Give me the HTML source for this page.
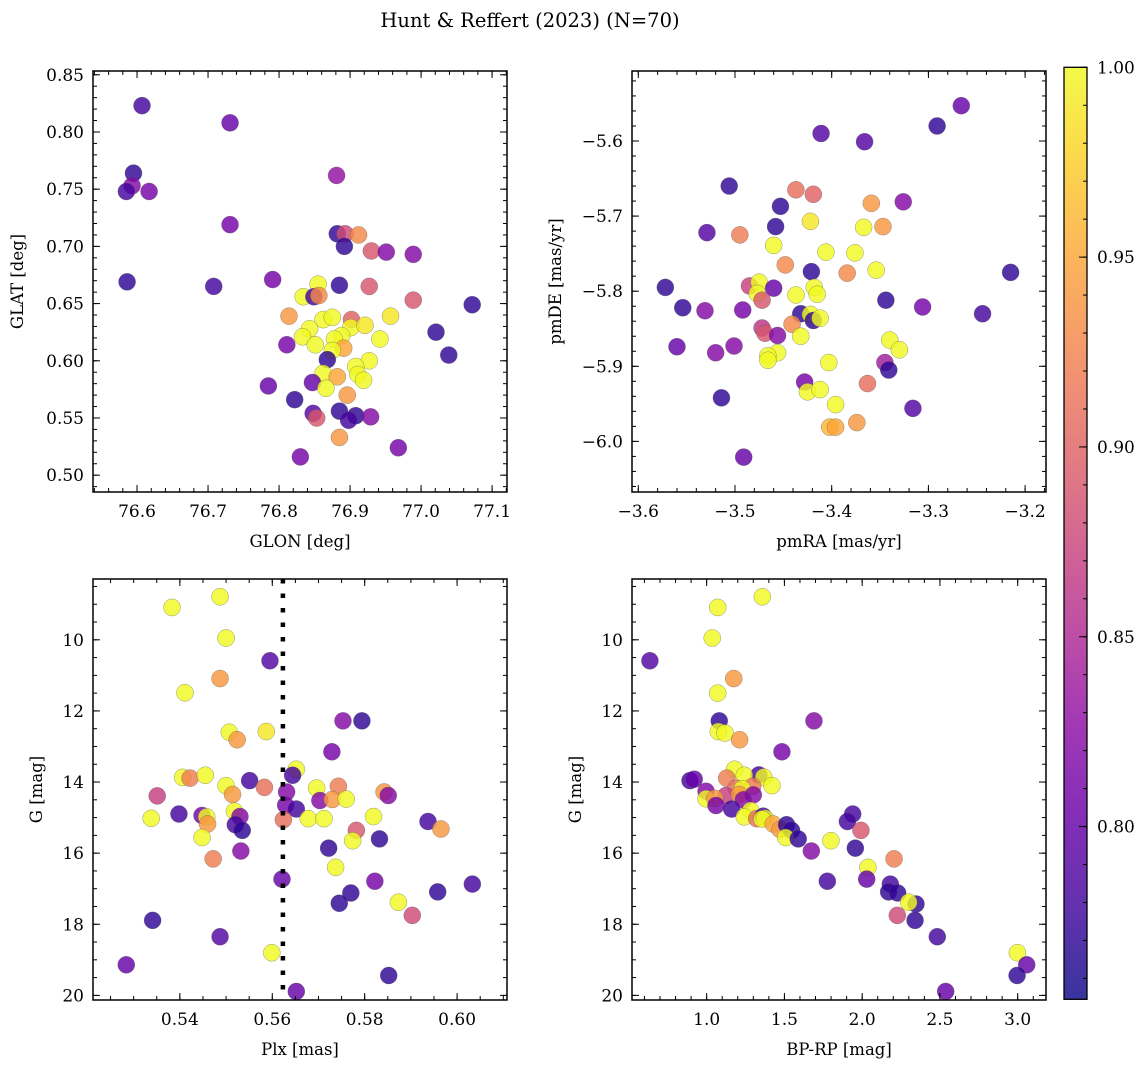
<!DOCTYPE html>
<html><head><meta charset="utf-8">
<style>
html,body{margin:0;padding:0;background:#fff;}
svg{display:block;font-family:"DejaVu Serif","Liberation Serif",serif;}
</style></head>
<body>
<svg id="fig" width="1148" height="1067" viewBox="0 0 1148 1067" xmlns="http://www.w3.org/2000/svg">
<text x="530" y="27" font-size="19.5" text-anchor="middle">Hunt &amp; Reffert (2023) (N=70)</text>
<g id="plots"></g>
</svg>
<script>
// ---- Panel 1: GLON vs GLAT ----
const glon1 = [76.607,76.731,76.595,76.593,76.585,76.617,76.881,76.731,76.882,76.893,76.912,76.892,76.930,76.951,76.989,76.586,76.708,76.791,76.855,76.885,76.927,76.834,76.849,76.856,76.989,77.072,76.814,76.862,76.875,76.902,76.957,76.843,76.901,76.921,76.833,76.888,76.878,76.942,77.021,76.811,76.851,76.891,76.875,77.039,76.868,76.927,76.908,76.911,76.862,76.882,76.919,76.847,76.785,76.866,76.896,76.822,76.885,76.848,76.853,76.908,76.898,76.929,76.885,76.968,76.830];
const glat1 = [0.823,0.808,0.764,0.753,0.748,0.748,0.762,0.719,0.711,0.711,0.710,0.700,0.696,0.695,0.693,0.669,0.665,0.671,0.667,0.666,0.665,0.656,0.656,0.657,0.653,0.649,0.639,0.636,0.638,0.636,0.639,0.628,0.629,0.631,0.621,0.622,0.619,0.619,0.625,0.614,0.614,0.611,0.609,0.605,0.601,0.600,0.595,0.588,0.589,0.586,0.583,0.581,0.578,0.576,0.570,0.566,0.556,0.554,0.550,0.552,0.548,0.551,0.533,0.524,0.516];
const prob1 = [0.78,0.80,0.77,0.82,0.78,0.81,0.83,0.81,0.77,0.88,0.93,0.77,0.89,0.82,0.82,0.77,0.78,0.81,1.0,0.77,0.89,1.0,0.78,0.93,0.89,0.77,0.94,1.0,1.0,0.90,0.99,1.0,1.0,0.99,1.0,1.0,1.0,1.0,0.77,0.81,1.0,0.95,1.0,0.77,0.77,1.0,1.0,1.0,1.0,0.95,1.0,0.80,0.80,1.0,0.94,0.77,0.77,0.79,0.89,0.77,0.78,0.82,0.94,0.81,0.81];
// ---- Panel 2: pmRA vs pmDE ----
const pmra2 = [-3.266,-3.291,-3.411,-3.366,-3.506,-3.437,-3.419,-3.359,-3.326,-3.453,-3.422,-3.458,-3.367,-3.347,-3.529,-3.495,-3.460,-3.406,-3.376,-3.448,-3.354,-3.384,-3.421,-3.215,-3.572,-3.485,-3.475,-3.460,-3.418,-3.477,-3.437,-3.415,-3.472,-3.344,-3.554,-3.306,-3.244,-3.531,-3.492,-3.432,-3.422,-3.419,-3.412,-3.441,-3.472,-3.469,-3.456,-3.432,-3.340,-3.330,-3.560,-3.501,-3.520,-3.456,-3.466,-3.466,-3.403,-3.345,-3.341,-3.428,-3.425,-3.412,-3.363,-3.514,-3.396,-3.316,-3.374,-3.402,-3.396,-3.491];
const pmde2 = [-5.553,-5.580,-5.590,-5.601,-5.660,-5.665,-5.671,-5.683,-5.681,-5.687,-5.707,-5.714,-5.715,-5.714,-5.722,-5.725,-5.739,-5.748,-5.749,-5.765,-5.772,-5.776,-5.774,-5.775,-5.795,-5.793,-5.788,-5.796,-5.795,-5.803,-5.805,-5.804,-5.812,-5.812,-5.822,-5.821,-5.830,-5.826,-5.825,-5.830,-5.831,-5.839,-5.836,-5.844,-5.849,-5.856,-5.859,-5.860,-5.865,-5.878,-5.874,-5.873,-5.882,-5.882,-5.886,-5.892,-5.895,-5.895,-5.905,-5.921,-5.934,-5.931,-5.923,-5.942,-5.951,-5.956,-5.975,-5.981,-5.981,-6.021];
const prob2 = [0.80,0.77,0.79,0.79,0.77,0.91,0.90,0.94,0.82,0.77,0.99,0.77,1.0,0.94,0.79,0.92,1.0,1.0,1.0,0.93,1.0,0.93,0.77,0.77,0.77,0.87,1.0,0.80,1.0,1.0,1.0,1.0,0.89,0.77,0.77,0.81,0.78,0.82,0.81,0.77,1.0,0.77,1.0,0.93,0.86,0.89,0.82,1.0,1.0,1.0,0.80,0.82,0.82,1.0,1.0,1.0,1.0,0.84,0.77,0.81,1.0,1.0,0.91,0.77,1.0,0.79,0.94,0.96,0.95,0.80];
// ---- Panel 3: Plx vs G ----
const plx3 = [0.5487,0.5383,0.5500,0.5595,0.5487,0.5411,0.5753,0.5794,0.5507,0.5524,0.5587,0.5729,0.5652,0.5644,0.5406,0.5422,0.5455,0.5551,0.5500,0.5583,0.5631,0.5514,0.5696,0.5743,0.5703,0.5730,0.5760,0.5842,0.5851,0.5351,0.5629,0.5652,0.5338,0.5398,0.5448,0.5458,0.5460,0.5518,0.5530,0.5520,0.5535,0.5624,0.5678,0.5712,0.5819,0.5937,0.5965,0.5782,0.5774,0.5832,0.5448,0.5722,0.5532,0.5472,0.5737,0.5621,0.5822,0.6033,0.5958,0.5770,0.5745,0.5873,0.5903,0.5341,0.5487,0.5599,0.5284,0.5852,0.5652];
const g3 = [8.79,9.09,9.95,10.59,11.09,11.49,12.28,12.28,12.60,12.81,12.58,13.15,13.64,13.81,13.87,13.89,13.81,13.96,14.10,14.15,14.28,14.35,14.17,14.12,14.52,14.49,14.48,14.28,14.38,14.39,14.65,14.76,15.02,14.90,14.94,14.98,15.18,14.82,14.97,15.20,15.36,15.06,15.03,15.03,14.97,15.11,15.32,15.36,15.65,15.60,15.56,15.86,15.94,16.16,16.40,16.73,16.79,16.87,17.09,17.12,17.41,17.38,17.75,17.89,18.35,18.80,19.14,19.44,19.89];
const prob3 = [1,1,1,0.79,0.94,1,0.82,0.77,1,0.94,0.99,0.81,1,0.78,1,0.92,1,0.78,1,0.91,0.82,0.94,1,0.92,0.82,0.94,1,0.94,0.82,0.87,0.81,0.78,1,0.78,0.81,1,0.94,1,0.82,0.78,0.77,0.91,1,1,1,0.78,0.94,0.89,1,0.77,1,0.77,0.82,0.92,1,0.80,0.81,0.78,0.77,0.77,0.77,1,0.88,0.77,0.79,1,0.80,0.77,0.80];
const plxRef = [0.5623];
// ---- Panel 4: BP-RP vs G ----
const bprp4 = [1.358,1.071,1.036,0.635,1.174,1.071,1.690,1.081,1.075,1.118,1.212,1.484,1.180,1.336,1.242,1.367,1.420,0.893,0.920,1.129,1.188,1.296,1.229,0.996,1.124,1.210,1.300,1.236,0.996,1.053,1.060,1.161,1.283,1.242,1.322,1.364,1.377,1.356,1.428,1.471,1.514,1.546,1.508,1.589,1.673,1.799,1.939,1.905,1.992,1.956,1.776,2.205,2.037,2.029,2.181,2.170,2.228,2.346,2.299,2.226,2.340,2.483,2.998,3.058,2.996,2.537];
const g4 = [8.79,9.09,9.95,10.59,11.09,11.50,12.28,12.28,12.58,12.62,12.81,13.15,13.64,13.80,13.81,13.86,14.10,13.96,13.92,13.89,14.17,14.12,14.19,14.26,14.38,14.35,14.36,14.50,14.47,14.46,14.66,14.76,14.80,14.98,15.03,14.96,15.02,15.04,15.18,15.33,15.20,15.36,15.56,15.60,15.94,15.65,14.90,15.11,15.36,15.86,16.79,16.16,16.40,16.73,16.87,17.09,17.12,17.43,17.38,17.75,17.89,18.35,18.80,19.14,19.44,19.89];
const prob4 = [1,1,1,0.79,0.94,1,0.82,0.77,1,1,0.94,0.81,1,0.78,1,1,1,0.78,0.80,0.92,0.91,0.92,1,0.82,0.87,0.94,0.82,0.82,1,0.94,0.81,0.78,1,1,0.91,0.78,1,1,0.95,0.94,0.77,0.77,1,0.77,0.82,1,0.78,0.78,0.89,0.77,0.78,0.92,1,0.80,0.78,0.77,0.77,0.77,1,0.88,0.77,0.78,1,0.80,0.77,0.80];
// ---- Tick labels ----
const p1xTicks = [76.6,76.7,76.8,76.9,77.0,77.1];
const p1xLabels = ["76.6","76.7","76.8","76.9","77.0","77.1"];
const p1yTicks = [0.50,0.55,0.60,0.65,0.70,0.75,0.80,0.85];
const p1yLabels = ["0.50","0.55","0.60","0.65","0.70","0.75","0.80","0.85"];
const p2xTicks = [-3.6,-3.5,-3.4,-3.3,-3.2];
const p2xLabels = ["\u22123.6","\u22123.5","\u22123.4","\u22123.3","\u22123.2"];
const p2yTicks = [-5.6,-5.7,-5.8,-5.9,-6.0];
const p2yLabels = ["\u22125.6","\u22125.7","\u22125.8","\u22125.9","\u22126.0"];
const p3xTicks = [0.54,0.56,0.58,0.60];
const p3xLabels = ["0.54","0.56","0.58","0.60"];
const gTicks = [10,12,14,16,18,20];
const gLabels = ["10","12","14","16","18","20"];
const p4xTicks = [1.0,1.5,2.0,2.5,3.0];
const p4xLabels = ["1.0","1.5","2.0","2.5","3.0"];
const cbTicks = [0.80,0.85,0.90,0.95,1.00];
const cbLabels = ["0.80","0.85","0.90","0.95","1.00"];
const cMin = 0.7545, cMax = 1.0;

const NS = "http://www.w3.org/2000/svg";
const root = document.getElementById('plots');
function mk(tag, attrs, parent){ const e=document.createElementNS(NS,tag); for(const k in attrs) e.setAttribute(k,attrs[k]); (parent||root).appendChild(e); return e; }

const plasma = ["#0d0887","#41049d","#6a00a8","#8f0da4","#b12a90","#cc4778","#e16462","#f2844b","#fca636","#fcce25","#f0f921"];
function hex(h){return [parseInt(h.substr(1,2),16),parseInt(h.substr(3,2),16),parseInt(h.substr(5,2),16)];}
function cmap(v){
  let t=(v-cMin)/(cMax-cMin); t=Math.max(0,Math.min(1,t));
  const s=t*10, i=Math.min(9,Math.floor(s)), f=s-i;
  const a=hex(plasma[i]), b=hex(plasma[i+1]);
  return "rgb("+a.map((c,k)=>Math.round(c+(b[k]-c)*f)).join(",")+")";
}

function panel(cfg){
  const g = mk('g',{});
  
  
  const sx = v => cfg.L + (v-cfg.x0)/(cfg.x1-cfg.x0)*(cfg.R-cfg.L);
  const sy = cfg.inv ? (v => cfg.T + (v-cfg.y0)/(cfg.y1-cfg.y0)*(cfg.B-cfg.T))
                     : (v => cfg.B - (v-cfg.y0)/(cfg.y1-cfg.y0)*(cfg.B-cfg.T));
  const clip = mk('clipPath',{id:'clip'+cfg.name}, g);
  mk('rect',{x:cfg.L,y:cfg.T,width:cfg.R-cfg.L,height:cfg.B-cfg.T}, clip);
  const pts = mk('g',{'clip-path':'url(#clip'+cfg.name+')'}, g);
  if(cfg.vline){
    const ln = mk('line',{x1:sx(cfg.vline[0]),x2:sx(cfg.vline[0]),y1:cfg.T,y2:cfg.B,stroke:'#000','stroke-width':4.5,'stroke-dasharray':'4.5 10'}, pts);
    
    
  }
  for(let i=0;i<cfg.xs.length;i++){
    const c = mk('circle',{cx:sx(cfg.xs[i]).toFixed(2),cy:sy(cfg.ys[i]).toFixed(2),r:8.5,fill:cmap(cfg.cs[i]),'fill-opacity':0.82,stroke:'#555','stroke-width':0.5,'stroke-opacity':0.6}, pts);
    
    
  }
  if(cfg.vline){ pts.appendChild(pts.firstChild); }
  // ticks
  const tk = mk('g',{stroke:'#000','stroke-width':1}, g);
  const nMinX = Math.ceil(cfg.x0/cfg.xm-1e-6), mMaxX=Math.floor(cfg.x1/cfg.xm+1e-6);
  for(let k=nMinX;k<=mMaxX;k++){ const x=sx(k*cfg.xm);
    mk('line',{x1:x,x2:x,y1:cfg.B,y2:cfg.B-4},tk); mk('line',{x1:x,x2:x,y1:cfg.T,y2:cfg.T+4},tk);}
  const lo=Math.min(cfg.y0,cfg.y1), hi=Math.max(cfg.y0,cfg.y1);
  for(let k=Math.ceil(lo/cfg.ym-1e-6);k<=Math.floor(hi/cfg.ym+1e-6);k++){ const y=sy(k*cfg.ym);
    mk('line',{x1:cfg.L,x2:cfg.L+4,y1:y,y2:y},tk); mk('line',{x1:cfg.R,x2:cfg.R-4,y1:y,y2:y},tk);}
  cfg.xt.forEach((v,i)=>{ const x=sx(v);
    mk('line',{x1:x,x2:x,y1:cfg.B,y2:cfg.B-7},tk); mk('line',{x1:x,x2:x,y1:cfg.T,y2:cfg.T+7},tk);
    const t=mk('text',{x:x,y:cfg.B+25,'font-size':17,'text-anchor':'middle'},g); t.textContent=cfg.xl[i];
    
    
  });
  cfg.yt.forEach((v,i)=>{ const y=sy(v);
    mk('line',{x1:cfg.L,x2:cfg.L+7,y1:y,y2:y},tk); mk('line',{x1:cfg.R,x2:cfg.R-7,y1:y,y2:y},tk);
    const t=mk('text',{x:cfg.L-9,y:y+6,'font-size':17,'text-anchor':'end'},g); t.textContent=cfg.yl[i];
    
    
  });
  const fr = mk('rect',{x:cfg.L,y:cfg.T,width:cfg.R-cfg.L,height:cfg.B-cfg.T,fill:'none',stroke:'#000','stroke-width':1.5},g);
  
  
  const xl = mk('text',{x:(cfg.L+cfg.R)/2,y:cfg.B+55,'font-size':16.5,'text-anchor':'middle'},g); xl.textContent=cfg.xlab;
  
  
  const yc=(cfg.T+cfg.B)/2;
  const yl = mk('text',{x:cfg.ylx,y:yc,'font-size':16.5,'text-anchor':'middle',transform:'rotate(-90 '+cfg.ylx+' '+yc+')'},g); yl.textContent=cfg.ylab;
  
  
}

panel({name:'panel-glon-glat',L:93,R:507,T:71,B:492,x0:76.538,x1:77.121,y0:0.4853,y1:0.8533,inv:false,
  xs:glon1,ys:glat1,cs:prob1,xm:0.02,ym:0.01,xt:p1xTicks,xl:p1xLabels,yt:p1yTicks,yl:p1yLabels,
  xlab:'GLON [deg]',ylab:'GLAT [deg]',ylx:23});
panel({name:'panel-pm',L:632,R:1046,T:71,B:492,x0:-3.6065,x1:-3.1784,y0:-6.0674,y1:-5.5068,inv:false,
  xs:pmra2,ys:pmde2,cs:prob2,xm:0.02,ym:0.02,xt:p2xTicks,xl:p2xLabels,yt:p2yTicks,yl:p2yLabels,
  xlab:'pmRA [mas/yr]',ylab:'pmDE [mas/yr]',ylx:561});
panel({name:'panel-plx-g',L:93,R:507,T:579,B:1000,x0:0.5212,x1:0.6108,y0:8.29,y1:20.13,inv:true,
  xs:plx3,ys:g3,cs:prob3,xm:0.005,ym:0.5,xt:p3xTicks,xl:p3xLabels,yt:gTicks,yl:gLabels,vline:plxRef,
  xlab:'Plx [mas]',ylab:'G [mag]',ylx:42});
panel({name:'panel-cmd',L:632,R:1046,T:579,B:1000,x0:0.52,x1:3.182,y0:8.29,y1:20.13,inv:true,
  xs:bprp4,ys:g4,cs:prob4,xm:0.1,ym:0.5,xt:p4xTicks,xl:p4xLabels,yt:gTicks,yl:gLabels,
  xlab:'BP-RP [mag]',ylab:'G [mag]',ylx:581});

// ---- colorbar ----
(function(){
  const L=1064,R=1087,T=67.3,B=999.3;
  const cb = mk('g',{});
  
  
  const defs = mk('defs',{},cb);
  const lg = mk('linearGradient',{id:'cbgrad',x1:0,y1:1,x2:0,y2:0},defs);
  for(let i=0;i<=20;i++){ const t=i/20; mk('stop',{offset:t,'stop-color':cmap(cMin+t*(cMax-cMin)),'stop-opacity':0.82},lg); }
  mk('rect',{x:L,y:T,width:R-L,height:B-T,fill:'url(#cbgrad)'},cb);
  const sy = v => B-(v-cMin)/(cMax-cMin)*(B-T);
  const tk = mk('g',{stroke:'#000','stroke-width':1},cb);
  for(let k=Math.ceil(cMin*100);k<=100;k++){ const y=sy(k/100); mk('line',{x1:R,x2:R-4,y1:y,y2:y},tk); }
  cbTicks.forEach((v,i)=>{ const y=sy(v);
    mk('line',{x1:R,x2:R-8,y1:y,y2:y},tk);
    const t=mk('text',{x:R+10,y:y+6,'font-size':17},cb); t.textContent=cbLabels[i];
    
    
  });
  mk('rect',{x:L,y:T,width:R-L,height:B-T,fill:'none',stroke:'#000','stroke-width':1.3},cb);
})();
</script>
</body></html>
